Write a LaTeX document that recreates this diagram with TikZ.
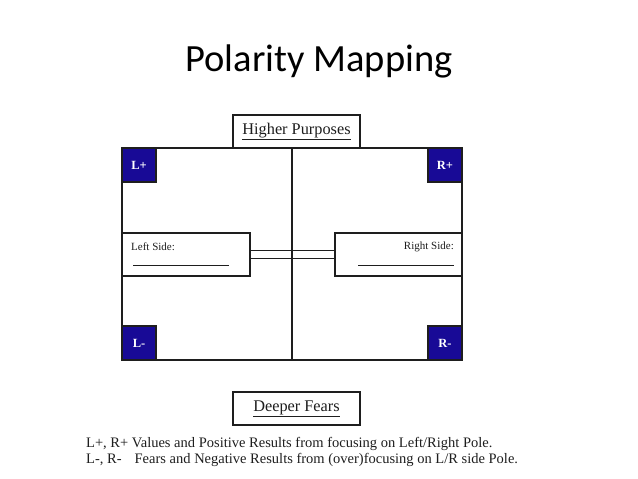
\documentclass[tikz,border=0pt]{standalone}
\usepackage{fontspec}
\setmainfont{Liberation Serif}
\newfontfamily\titlefont{Carlito}
\definecolor{navy}{RGB}{24,10,150}
\definecolor{ink}{RGB}{30,30,30}
\begin{document}
\begin{tikzpicture}[x=1pt,y=-1pt,
  line/.style={draw=ink,line width=1.7pt},
  box/.style={line,fill=white,inner sep=0pt,minimum width=#1},
  pole/.style={draw=ink,line width=1.4pt,fill=navy,text=white,font=\bfseries\fontsize{12.5}{14}\selectfont,minimum width=34pt,minimum height=34pt,inner sep=0pt},
  small/.style={font=\fontsize{11}{13}\selectfont,text=ink,inner sep=0pt},
  heading/.style={font=\fontsize{16.3}{19}\selectfont,text=ink},
  note/.style={font=\fontsize{14.5}{16}\selectfont,text=ink,inner sep=0pt,anchor=base west}]
\useasboundingbox (0,0) rectangle (638,479);
\node[font=\titlefont\fontsize{38.5}{42}\selectfont,anchor=base] (title) at (319,71) {Polarity Mapping};
% main frame
\node[box=340pt,minimum height=212pt] (frame) at (292,254) {};
\draw[line] (frame.north) -- (frame.south);
% heading boxes
\node[box=127pt,minimum height=33pt,heading] (higher) at (296.5,131.5) {\underline{Higher Purposes}};
\node[box=127pt,minimum height=33pt,heading] (deeper) at (296.5,408.5) {\underline{Deeper Fears}};
% side boxes
\node[box=128pt,minimum height=43pt] (lside) at (186,254.5) {};
\node[box=127pt,minimum height=43pt] (rside) at (398.5,254.5) {};
\draw[line] ([yshift=4pt]lside.east) -- ([yshift=4pt]rside.west);
\draw[line] ([yshift=-4pt]lside.east) -- ([yshift=-4pt]rside.west);
\node[small,anchor=west] (ltext) at (131,247) {Left Side:};
\node[small,anchor=east] (rtext) at (454,247) {Right Side:};
\coordinate (lu1) at (133,265); \coordinate (lu2) at (229,265);
\coordinate (ru1) at (358,265); \coordinate (ru2) at (454,265);
\draw[ink,line width=0.7pt] (lu1) -- (lu2);
\draw[ink,line width=0.7pt] (ru1) -- (ru2);
% poles
\node[pole] (lp) at (139,165) {L+};
\node[pole] (rp) at (445,165) {R+};
\node[pole] (lm) at (139,343) {L-};
\node[pole] (rm) at (445,343) {R-};
% notes
\node[note] (n1) at (86,447) {L+, R+ Values and Positive Results from focusing on Left/Right Pole.};
\node[note] (n2) at (86,463) {L-, R-\hspace{0.9em}Fears and Negative Results from (over)focusing on L/R side Pole.};
\end{tikzpicture}
\end{document}
